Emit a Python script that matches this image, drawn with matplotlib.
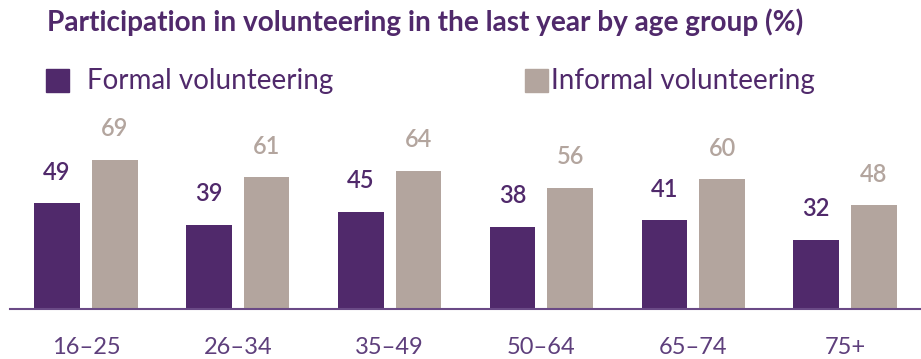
import matplotlib
matplotlib.use("Agg")
import matplotlib.pyplot as plt
import numpy as np

# 各年齡層志願服務參與率 (%)
age_groups = ["16\u201325", "26\u201334", "35\u201349", "50\u201364", "65\u201374", "75+"]
formal = [49, 39, 45, 38, 41, 32]
informal = [69, 61, 64, 56, 60, 48]

PURPLE = "#50296b"
TAUPE = "#b3a59e"
LABEL_PURPLE = "#5e3f7c"

plt.rcParams["font.family"] = ["Lato", "DejaVu Sans"]

fig = plt.figure(figsize=(9.21, 3.59), dpi=100)
ax = fig.add_axes([10 / 921, 50 / 359, 911 / 921, 173 / 359])

x = np.arange(len(age_groups))
w = 0.30
off = 0.19
b1 = ax.bar(x - off, formal, w, color=PURPLE)
b2 = ax.bar(x + off, informal, w, color=TAUPE)

# 數值標籤
for rect, v in zip(b1, formal):
    ax.annotate(str(v), xy=(rect.get_x() + rect.get_width() / 2, v),
                xytext=(0, 14), textcoords="offset points",
                ha="center", va="bottom", fontsize=17, fontweight="semibold",
                color=PURPLE)
for rect, v in zip(b2, informal):
    ax.annotate(str(v), xy=(rect.get_x() + rect.get_width() / 2, v),
                xytext=(0, 14), textcoords="offset points",
                ha="center", va="bottom", fontsize=17, fontweight="semibold",
                color=TAUPE)

ax.set_xlim(-0.5, 5.5)
ax.set_ylim(0, 80)
for s in ["top", "right", "left"]:
    ax.spines[s].set_visible(False)
ax.spines["bottom"].set_color("#6a4a86")
ax.spines["bottom"].set_linewidth(1.5)
ax.set_yticks([])
ax.set_xticks(x)
ax.set_xticklabels(age_groups, fontsize=17, color=LABEL_PURPLE)
ax.tick_params(axis="x", length=0, pad=20)

fig.text(47 / 921, 1 - 22 / 359, "Participation in volunteering in the last year by age group (%)",
         fontsize=20.2, fontweight="bold", color=PURPLE, va="center", ha="left")

# 圖例
fig.patches.append(plt.Rectangle((46 / 921, 1 - 92 / 359), 23 / 921, 23 / 359,
                                 transform=fig.transFigure, color=PURPLE))
fig.text(87 / 921, 1 - 81 / 359, "Formal volunteering", fontsize=20,
         color=PURPLE, va="center", ha="left")
fig.patches.append(plt.Rectangle((525 / 921, 1 - 92 / 359), 23 / 921, 23 / 359,
                                 transform=fig.transFigure, color=TAUPE))
fig.text(551 / 921, 1 - 81 / 359, "Informal volunteering", fontsize=20,
         color=PURPLE, va="center", ha="left")

fig.savefig("out.png", dpi=100)
